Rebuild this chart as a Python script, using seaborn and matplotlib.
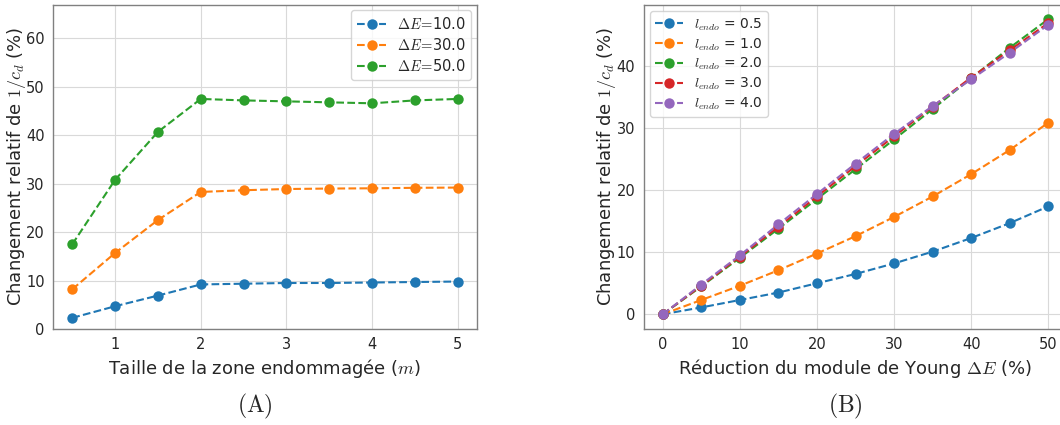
import matplotlib
matplotlib.use("Agg")
import matplotlib.pyplot as plt
import seaborn as sns
import pandas as pd

# (A) taille de la zone endommagee
taille = [0.5, 1.0, 1.5, 2.0, 2.5, 3.0, 3.5, 4.0, 4.5, 5.0]
delta_e = [10.0, 30.0, 50.0]
chg_de10 = [2.3, 4.7, 6.9, 9.2, 9.35, 9.5, 9.5, 9.6, 9.7, 9.8]
chg_de30 = [8.2, 15.7, 22.5, 28.3, 28.65, 28.9, 29.0, 29.05, 29.15, 29.2]
chg_de50 = [17.5, 30.8, 40.7, 47.5, 47.2, 47.0, 46.8, 46.6, 47.2, 47.5]

# (B) reduction du module de Young
reduction = [0, 5, 10, 15, 20, 25, 30, 35, 40, 45, 50]
l_endo = [0.5, 1.0, 2.0, 3.0, 4.0]
chg_l05 = [0, 1.1, 2.3, 3.5, 5.0, 6.5, 8.2, 10.1, 12.3, 14.7, 17.4]
chg_l10 = [0, 2.3, 4.6, 7.1, 9.8, 12.6, 15.7, 19.0, 22.6, 26.5, 30.9]
chg_l20 = [0, 4.5, 9.1, 13.8, 18.6, 23.4, 28.2, 33.1, 38.1, 43.0, 47.6]
chg_l30 = [0, 4.6, 9.3, 14.1, 19.0, 23.9, 28.7, 33.5, 38.2, 42.6, 47.0]
chg_l40 = [0, 4.8, 9.5, 14.5, 19.4, 24.3, 29.1, 33.6, 37.9, 42.2, 46.7]

dfa = pd.DataFrame({"x": taille * 3,
                    "y": chg_de10 + chg_de30 + chg_de50,
                    "serie": [r"$\Delta E\!=\!$" + f"{d}" for d in delta_e for _ in taille]})
dfb = pd.DataFrame({"x": reduction * 5,
                    "y": chg_l05 + chg_l10 + chg_l20 + chg_l30 + chg_l40,
                    "serie": [r"$l_{endo}$" + f" = {l}" for l in l_endo for _ in reduction]})

sns.set_style("whitegrid", {"axes.edgecolor": "0.5", "grid.color": "0.85"})
plt.rcParams["mathtext.fontset"] = "cm"
plt.rcParams["font.family"] = ["DejaVu Sans"]

fig = plt.figure(figsize=(10.6, 4.25), dpi=100)
# second panel runs past the right edge, as in the cropped original
ax1 = fig.add_axes([53 / 1060, 1 - 329 / 425, 424 / 1060, 324.5 / 425])
ax2 = fig.add_axes([643.5 / 1060, 1 - 329 / 425, 424 / 1060, 324.5 / 425])

pal = sns.color_palette("tab10")
for ax, df, n in [(ax1, dfa, 3), (ax2, dfb, 5)]:
    sns.lineplot(data=df, x="x", y="y", hue="serie", palette=pal[:n], ax=ax,
                 marker="o", markersize=7.5, markeredgewidth=0, linestyle="--",
                 linewidth=1.5, dashes=False)
    for line in ax.get_lines():
        line.set_linestyle("--")
    ax.tick_params(axis="x", labelsize=10.5, pad=2.5)
    ax.tick_params(axis="y", labelsize=10.5, pad=2.5)
    ax.set_ylabel(r"Changement relatif de $1/c_d$ (%)", fontsize=13)
    ax.yaxis.set_label_coords(-0.06, 0.5)
    for s in ax.spines.values():
        s.set_linewidth(1.0)

ax1.set_ylim(0, 67)
ax1.set_yticks([0, 10, 20, 30, 40, 50, 60])
ax1.set_xlabel(r"Taille de la zone endommagée ($m$)", fontsize=13, labelpad=3)
ax1.legend(loc="upper right", fontsize=10.5, handlelength=2.0, borderpad=0.4,
           labelspacing=0.35, borderaxespad=0.4, handletextpad=0.7)

ax2.set_xticks([0, 10, 20, 30, 40, 50])
ax2.set_yticks([0, 10, 20, 30, 40])
ax2.set_xlabel(r"Réduction du module de Young $\Delta E$ (%)", fontsize=13, labelpad=3)
ax2.legend(loc="upper left", fontsize=10, handlelength=2.0, borderpad=0.35,
           labelspacing=0.25, borderaxespad=0.5)

for ax in (ax1, ax2):
    for line in ax.get_legend().get_lines():
        line.set_linestyle("--")

fig.text(255 / 1060, 1 - 406 / 425, r"$(\mathrm{A})$", fontsize=17, ha="center", va="center")
fig.text(845 / 1060, 1 - 406 / 425, r"$(\mathrm{B})$", fontsize=17, ha="center", va="center")

fig.savefig("out.png", dpi=100)
